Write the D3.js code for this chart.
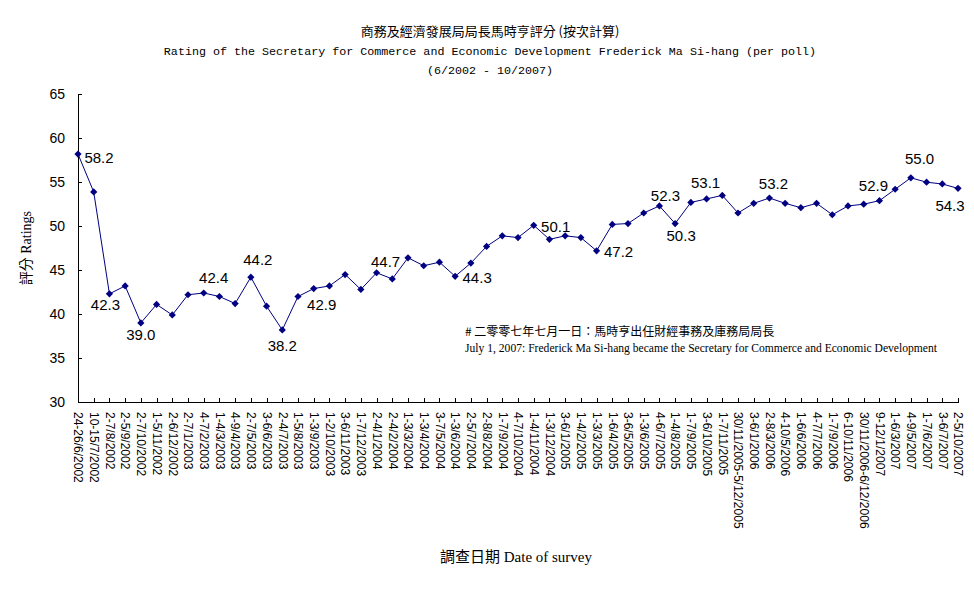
<!DOCTYPE html>
<html lang="zh-Hant">
    <head>
        <meta charset="utf-8">
        <title>Rating of the Secretary for Commerce and Economic Development</title>
        <script type="text/javascript" src="https://d3js.org/d3.v7.min.js"></script>
        <style>
            body {
                margin: 0;
                background: white;
            }

            .axis path, .axis line {
                stroke: black;
                stroke-width: 1;
                shape-rendering: crispEdges;
            }

            .axis text {
                font-family: "Liberation Sans", Arial, sans-serif;
                fill: black;
            }

            .title {
                font-family: "Liberation Mono", "Noto Sans CJK TC", monospace;
                font-size: 11.7px;
                text-anchor: middle;
            }

            .dataLabel {
                font-family: "Liberation Sans", Arial, sans-serif;
                font-size: 15px;
                text-anchor: middle;
                dominant-baseline: central;
            }

            .note {
                font-size: 12px;
            }
        </style>
    </head>
    <body>
        <div id="svgContainer"></div>
        <script type="text/javascript">
            //survey dates (categories)
            const surveyDates = [
                "24-26/6/2002", "10-15/7/2002", "2-7/8/2002", "2-5/9/2002", "2-7/10/2002",
                "1-5/11/2002", "2-6/12/2002", "2-7/1/2003", "4-7/2/2003", "1-4/3/2003",
                "4-9/4/2003", "2-7/5/2003", "3-6/6/2003", "2-4/7/2003", "1-5/8/2003",
                "1-3/9/2003", "1-2/10/2003", "3-6/11/2003", "1-7/12/2003", "2-4/1/2004",
                "2-4/2/2004", "1-3/3/2004", "1-3/4/2004", "3-7/5/2004", "1-3/6/2004",
                "2-5/7/2004", "2-8/8/2004", "1-7/9/2004", "4-7/10/2004", "1-4/11/2004",
                "1-3/12/2004", "3-6/1/2005", "1-4/2/2005", "1-3/3/2005", "1-6/4/2005",
                "3-6/5/2005", "1-3/6/2005", "4-6/7/2005", "1-4/8/2005", "1-7/9/2005",
                "3-6/10/2005", "1-7/11/2005", "30/11/2005-5/12/2005", "3-6/1/2006", "2-8/3/2006",
                "4-10/5/2006", "1-6/6/2006", "4-7/7/2006", "1-7/9/2006", "6-10/11/2006",
                "30/11/2006-6/12/2006", "9-12/1/2007", "1-6/3/2007", "4-9/5/2007", "1-7/6/2007",
                "3-6/7/2007", "2-5/10/2007"
            ];

            //ratings per poll
            const ratings = [
                58.2, 53.9, 42.3, 43.2, 39.0, 41.1, 39.9, 42.2, 42.4, 42.0,
                41.2, 44.2, 40.9, 38.2, 42.0, 42.9, 43.2, 44.5, 42.8, 44.7,
                44.0, 46.4, 45.5, 45.9, 44.3, 45.8, 47.7, 48.9, 48.7, 50.1,
                48.5, 48.9, 48.7, 47.2, 50.2, 50.3, 51.5, 52.3, 50.3, 52.7,
                53.1, 53.5, 51.5, 52.6, 53.2, 52.6, 52.1, 52.6, 51.3, 52.3,
                52.5, 52.9, 54.2, 55.5, 55.0, 54.8, 54.3
            ];

            //polls whose value is printed on the chart
            const labelledPolls = [0, 2, 4, 8, 11, 13, 15, 19, 24, 29, 33, 37, 38, 40, 44, 51, 54, 56];

            //y axis ticks
            const yTicks = [30, 35, 40, 45, 50, 55, 60, 65];

            //text
            const titleLines = [
                "商務及經濟發展局局長馬時亨評分 (按次計算)",
                "Rating of the Secretary for Commerce and Economic Development Frederick Ma Si-hang (per poll)",
                "(6/2002 - 10/2007)"
            ];
            const noteLines = [
                "# 二零零七年七月一日：馬時亨出任財經事務及庫務局局長",
                "July 1, 2007: Frederick Ma Si-hang became the Secretary for Commerce and Economic Development"
            ];
            const yTitle = "評分 Ratings";
            const xTitle = "調查日期 Date of survey";

            //label nudges (px from the marker), same order as labelledPolls
            const labelNudge = [
                [21, 3], [-4, 11], [0, 12], [10, -15], [7, -18], [0, 16], [8, 16], [9, -11], [22, 1],
                [22, 1], [22, 1], [6, -10], [6, 12], [-1, -16], [4, -15], [-6, -15], [-7, -24], [-8, 17]
            ];

            //set svg size
            let w = 974;
            let h = 599;
            let plotLeft = 78, plotRight = 958, plotTop = 94.3, plotBottom = 402;
            let color = "#000080";

            let xScale = d3.scalePoint()
                            .domain(surveyDates)
                            .range([plotLeft, plotRight]);

            let yScale = d3.scaleLinear()
                            .domain([30, 65])
                            .range([plotBottom, plotTop]);

            let svg = d3.select("#svgContainer")
                        .append("svg")
                        .attr("width", w)
                        .attr("height", h);

            //titles
            svg.selectAll(".title")
                .data(titleLines)
                .enter()
                .append("text")
                .attr("class", "title")
                .attr("x", 490)
                .attr("y", (d, i) => [36, 55, 74][i])
                .style("font-size", (d, i) => i === 0 ? "13px" : "11.7px")
                .style("font-family", (d, i) => i === 0 ? "'Noto Sans CJK TC', sans-serif" : null)
                .text(d => d);

            //axes
            let xAxis = d3.axisBottom(xScale)
                            .tickSizeInner(-4)
                            .tickSizeOuter(0);

            let yAxis = d3.axisLeft(yScale)
                            .tickValues(yTicks)
                            .tickSizeInner(-4)
                            .tickSizeOuter(0);

            svg.append("g")
                .attr("class", "axis axis-y")
                .attr("transform", `translate(${plotLeft}, 0)`)
                .call(yAxis)
                .selectAll("text")
                .attr("x", -13)
                .style("font-size", "14px");

            svg.append("g")
                .attr("class", "axis axis-x")
                .attr("transform", `translate(0, ${plotBottom})`)
                .call(xAxis)
                .selectAll("text")
                .style("text-anchor", "start")
                .style("font-size", "12px")
                .attr("x", 10)
                .attr("y", 0)
                .attr("dy", "0.35em")
                .attr("transform", "rotate(90)");

            //rating line
            let line = d3.line()
                            .x((d, i) => xScale(surveyDates[i]))
                            .y(d => yScale(d));

            svg.append("path")
                .datum(ratings)
                .attr("d", line)
                .attr("fill", "none")
                .attr("stroke", color)
                .attr("stroke-width", 1);

            //diamond markers
            svg.selectAll(".marker")
                .data(ratings)
                .enter()
                .append("path")
                .attr("class", "marker")
                .attr("d", d3.symbol().type(d3.symbolSquare).size(26))
                .attr("transform", (d, i) => `translate(${xScale(surveyDates[i])}, ${yScale(d)}) rotate(45)`)
                .attr("fill", color);

            //data labels
            svg.selectAll(".dataLabel")
                .data(labelledPolls)
                .enter()
                .append("text")
                .attr("class", "dataLabel")
                .attr("x", (d, i) => xScale(surveyDates[d]) + labelNudge[i][0])
                .attr("y", (d, i) => yScale(ratings[d]) + labelNudge[i][1])
                .text(d => ratings[d].toFixed(1));

            //note
            svg.append("text")
                .attr("class", "note")
                .attr("x", 465)
                .attr("y", 336)
                .style("font-family", "'Noto Sans CJK TC', sans-serif")
                .text(noteLines[0]);

            svg.append("text")
                .attr("class", "note")
                .attr("x", 465)
                .attr("y", 352)
                .style("font-family", "'Liberation Serif', serif")
                .attr("textLength", 472)
                .attr("lengthAdjust", "spacingAndGlyphs")
                .text(noteLines[1]);

            //axis titles
            svg.append("text")
                .attr("transform", `translate(31, ${(plotTop + plotBottom) / 2}) rotate(-90)`)
                .attr("text-anchor", "middle")
                .style("font-family", "'Liberation Serif', 'Noto Sans CJK TC', serif")
                .style("font-size", "14px")
                .text(yTitle);

            svg.append("text")
                .attr("x", 516)
                .attr("y", 562)
                .attr("text-anchor", "middle")
                .style("font-family", "'Liberation Serif', 'Noto Sans CJK TC', serif")
                .style("font-size", "15px")
                .text(xTitle);
        </script>
    </body>
</html>
